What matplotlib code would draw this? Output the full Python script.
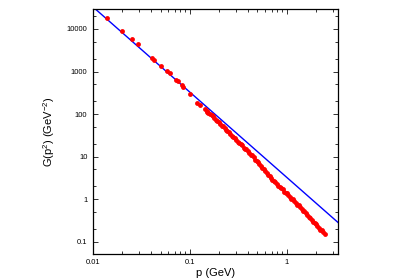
import numpy as np
import matplotlib
matplotlib.use("Agg")
import matplotlib.pyplot as plt
from matplotlib.ticker import LogLocator, FuncFormatter, NullFormatter

plt.rcParams['font.family'] = ['Liberation Sans', 'DejaVu Sans']
plt.rcParams['mathtext.fontset'] = 'custom'
plt.rcParams['mathtext.rm'] = 'Liberation Sans'
plt.rcParams['mathtext.it'] = 'Liberation Sans'

# lattice propagator data
p_data = [0.0140, 0.0200, 0.0252, 0.0291, 0.0409, 0.0432, 0.0499, 0.0579,
          0.0618, 0.0722, 0.0752, 0.0827, 0.0861, 0.1007, 0.119, 0.127,
          0.143, 0.149, 0.151, 0.162, 0.174, 0.186, 0.200, 0.214, 0.229,
          0.245, 0.263, 0.282, 0.302, 0.324, 0.347, 0.372, 0.398, 0.427,
          0.457, 0.490, 0.525, 0.562, 0.603, 0.646, 0.692, 0.741, 0.794,
          0.851, 0.912, 0.977, 1.047, 1.122, 1.202, 1.288, 1.380, 1.479,
          1.585, 1.698, 1.820, 1.950, 2.089, 2.239, 2.399, 2.470]
G_data = [18100, 8980, 5820, 4440, 2050, 1870, 1375, 1015,
          912, 635, 592, 477, 428, 298, 186, 164,
          130, 115, 121, 102, 88.5, 74.0, 64.8, 54.0, 47.1,
          39.5, 34.4, 28.7, 25.2, 21.0, 18.5, 15.3, 13.6, 11.1,
          9.7, 7.8, 6.8, 5.5, 4.65, 3.70, 3.22, 2.64, 2.34,
          1.94, 1.70, 1.42, 1.25, 1.03, 0.91, 0.75, 0.66, 0.54,
          0.47, 0.38, 0.33, 0.27, 0.235, 0.193, 0.168, 0.155]

# second family of lattice momenta, interleaved with the first
p_data2 = [0.156, 0.168, 0.180, 0.193, 0.207, 0.221, 0.237, 0.254, 0.272,
           0.292, 0.313, 0.335, 0.360, 0.385, 0.412, 0.442, 0.473, 0.507,
           0.543, 0.582, 0.624, 0.669, 0.716, 0.767, 0.822, 0.881, 0.944,
           1.011, 1.084, 1.161, 1.244, 1.334, 1.429, 1.531, 1.641, 1.758,
           1.884, 2.018, 2.163, 2.318]
G_data2 = [108, 96, 80, 70, 58, 51.5, 42.0, 37.3, 30.8,
           27.4, 22.5, 20.1, 16.4, 14.8, 11.9, 10.7, 8.5, 7.5,
           5.95, 5.15, 4.05, 3.55, 2.82, 2.55, 2.07, 1.88, 1.51,
           1.37, 1.11, 1.00, 0.81, 0.72, 0.585, 0.525, 0.415, 0.365,
           0.292, 0.26, 0.207, 0.185]

# perturbative line G = A / p^2
fit_A = 3.3
fit_p = np.array([0.01, 3.4])
fit_G = fit_A / fit_p ** 2

fig = plt.figure(figsize=(3.99, 2.79), dpi=100)
ax = fig.add_axes([0.233, 0.090, 0.614, 0.878])

ax.plot(fit_p, fit_G, color='#0000ff', lw=1.0, zorder=2)
ax.plot(p_data, G_data, 'o', color='#ff0000', ms=3.5, mec='none', zorder=3)
ax.plot(p_data2, G_data2, 'o', color='#ff0000', ms=3.5, mec='none', zorder=3)

ax.set_xscale('log')
ax.set_yscale('log')
ax.set_xlim(0.01, 3.4)
ax.set_ylim(0.052, 29600)

fmt = FuncFormatter(lambda v, pos: '%g' % v)
ax.xaxis.set_major_locator(LogLocator(base=10, numticks=10))
ax.xaxis.set_minor_locator(LogLocator(base=10, subs=range(2, 10), numticks=20))
ax.yaxis.set_major_locator(LogLocator(base=10, numticks=12))
ax.yaxis.set_minor_locator(LogLocator(base=10, subs=(2, 5), numticks=20))
ax.xaxis.set_major_formatter(fmt)
ax.yaxis.set_major_formatter(fmt)
ax.xaxis.set_minor_formatter(NullFormatter())
ax.yaxis.set_minor_formatter(NullFormatter())

ax.tick_params(which='both', direction='in', top=True, right=True,
               labelsize=5.5, width=0.7, color='#333333')
ax.tick_params(which='major', length=3.5, pad=4)
ax.tick_params(which='minor', length=2)

for s in ax.spines.values():
    s.set_linewidth(0.9)

ax.set_xlabel('p (GeV)', fontsize=8, labelpad=1)
ax.set_ylabel('G(p$^{2}$) (GeV$^{-2}$)', fontsize=8, labelpad=7)

fig.savefig('out.png', dpi=100)
